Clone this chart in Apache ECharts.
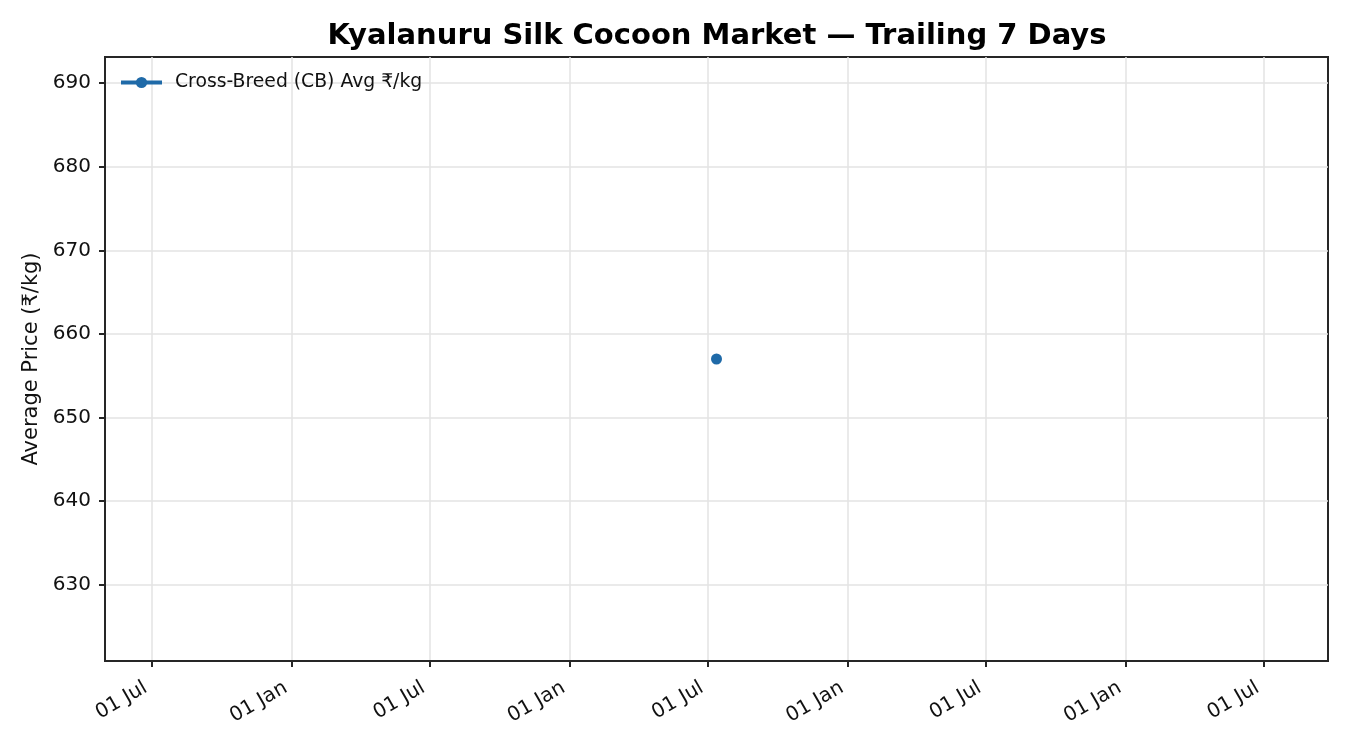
<!DOCTYPE html>
<html>
<head>
<meta charset="utf-8">
<script src="https://cdn.jsdelivr.net/npm/echarts@6/dist/echarts.min.js"></script>
<style>html,body{margin:0;padding:0;background:#fff;}#c{width:1350px;height:750px;}</style>
</head>
<body>
<div id="c"></div>
<script>
const titleText = 'Kyalanuru Silk Cocoon Market — Trailing 7 Days';
const seriesName = 'Cross-Breed (CB) Avg ₹/kg';
const dates = ['2024-07-12'];
const cbAvg = [657];
const xTickDates = ['2022-07-01','2023-01-01','2023-07-01','2024-01-01','2024-07-01','2025-01-01','2025-07-01','2026-01-01','2026-07-01'];
const yTicks = [630, 640, 650, 660, 670, 680, 690];
const monthNames = ['Jan','Feb','Mar','Apr','May','Jun','Jul','Aug','Sep','Oct','Nov','Dec'];

const DAY = 86400000;
const toMs = s => Date.parse(s + 'T00:00:00Z');
const times = dates.map(toMs);
const data = times.map((t, i) => [t, cbAvg[i]]);
// matplotlib-like autoscale for a single point
const tMid = times[0];
const xHalf = 730.5 * DAY * 1.1;
const yHalf = Math.abs(cbAvg[0]) * 0.05 * 1.1;

const font = 'DejaVu Sans';
const axisColor = '#262626';
const chart = echarts.init(document.getElementById('c'), null, {renderer: 'canvas'});
chart.setOption({
  backgroundColor: '#fff',
  animation: false,
  title: {
    text: titleText,
    left: 712, top: 17, textAlign: 'center',
    textStyle: {fontFamily: font, fontSize: 29, fontWeight: 'bold', color: '#000'}
  },
  legend: {
    left: 114, top: 68,
    itemWidth: 41, itemHeight: 14, itemGap: 10,
    lineStyle: {width: 4},
    textStyle: {fontFamily: font, fontSize: 18.8, color: '#111', padding: [0, 0, 0, 8]},
    data: [seriesName]
  },
  grid: {
    left: 105, right: 22, top: 57, bottom: 89,
    show: true, borderColor: axisColor, borderWidth: 2, backgroundColor: 'transparent'
  },
  xAxis: {
    type: 'value',
    min: tMid - xHalf, max: tMid + xHalf,
    axisLine: {show: true, lineStyle: {color: axisColor, width: 2}},
    axisTick: {show: true, length: 6, lineStyle: {color: axisColor, width: 2}, customValues: xTickDates.map(toMs)},
    axisLabel: {
      customValues: xTickDates.map(toMs),
      rotate: 30, margin: 22, padding: [0, 7, 0, 0],
      fontFamily: font, fontSize: 20, color: '#111',
      formatter: v => { const d = new Date(v); return String(d.getUTCDate()).padStart(2, '0') + ' ' + monthNames[d.getUTCMonth()]; }
    },
    splitLine: {show: true, lineStyle: {color: '#e3e3e3', width: 1.5}}
  },
  yAxis: {
    type: 'value',
    min: cbAvg[0] - yHalf, max: cbAvg[0] + yHalf,
    name: 'Average Price (₹/kg)',
    nameLocation: 'middle', nameRotate: 90, nameGap: 56,
    nameTextStyle: {fontFamily: font, fontSize: 21, color: '#111'},
    axisLine: {show: true, lineStyle: {color: axisColor, width: 2}},
    axisTick: {show: true, length: 6, lineStyle: {color: axisColor, width: 2}, customValues: yTicks},
    axisLabel: {customValues: yTicks, margin: 14, fontFamily: font, fontSize: 20, color: '#111'},
    splitLine: {show: true, lineStyle: {color: '#e3e3e3', width: 1.5}}
  },
  series: [{
    name: seriesName,
    type: 'line',
    data: data,
    symbol: 'circle', symbolSize: 11,
    itemStyle: {color: '#1f6aa8'},
    lineStyle: {color: '#1f6aa8', width: 4}
  }]
});
</script>
</body>
</html>
